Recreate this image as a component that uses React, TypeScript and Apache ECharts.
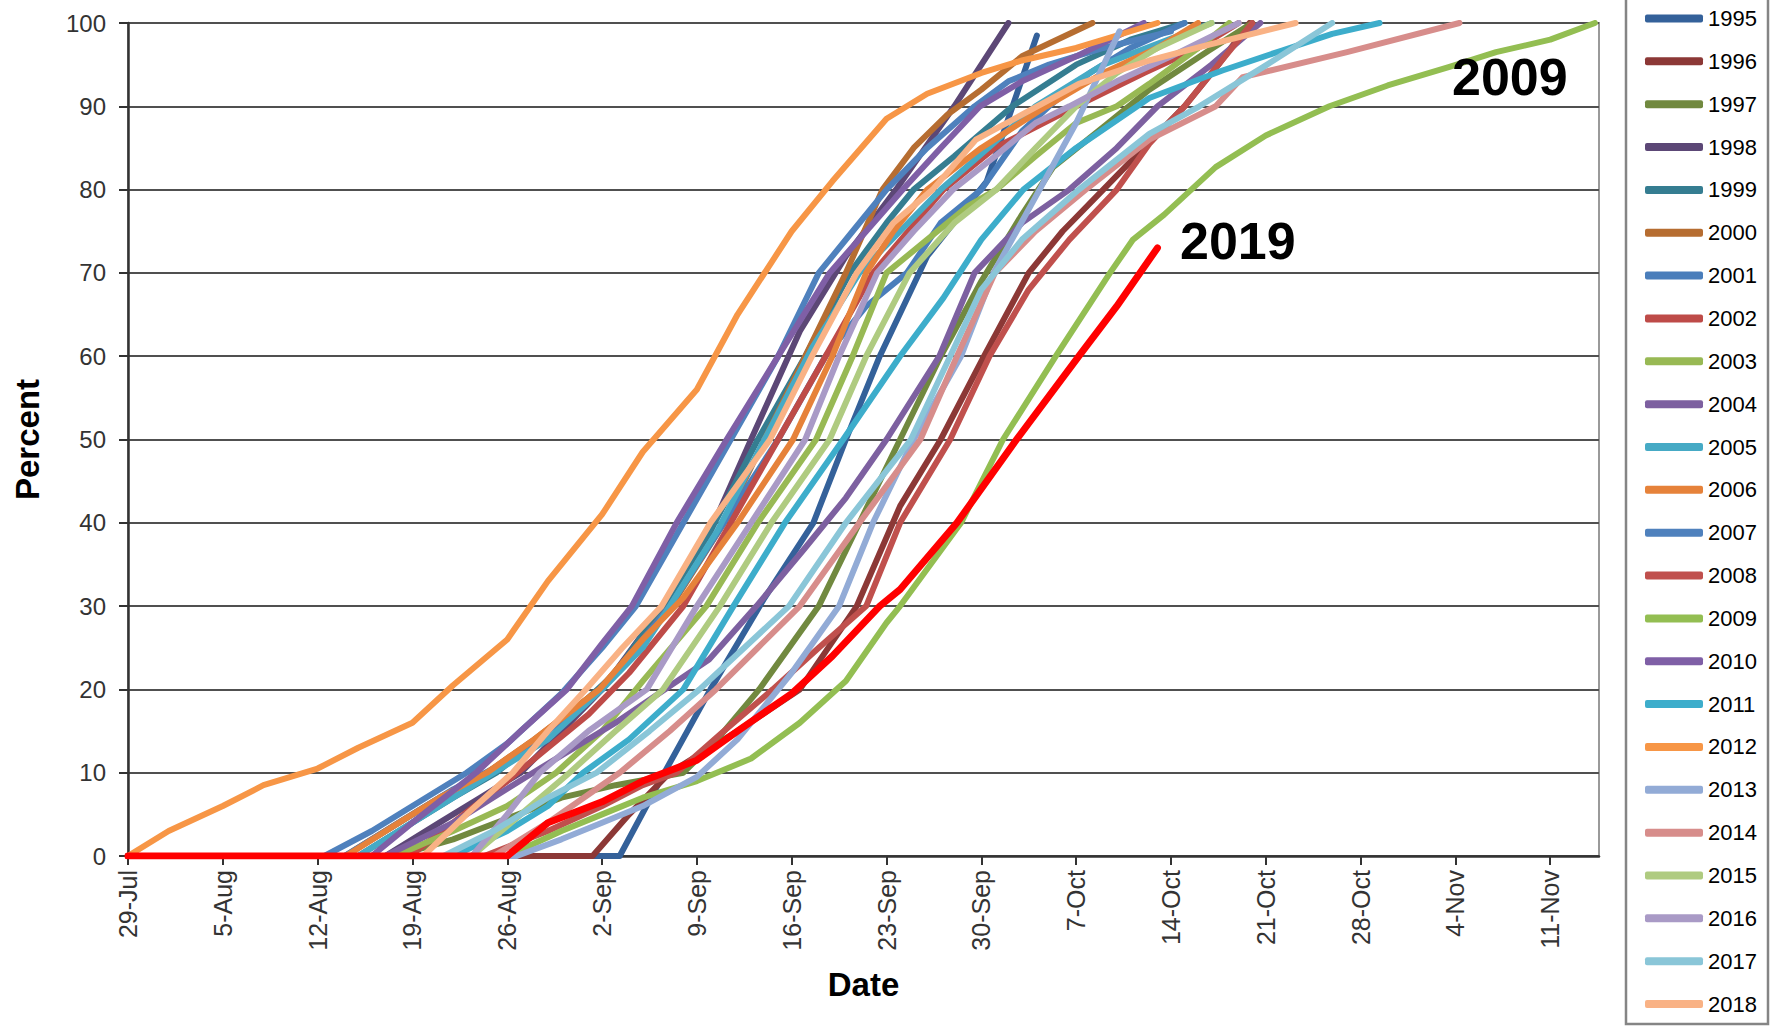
import React, { useEffect, useRef } from "react";
import * as echarts from "echarts";

const FONT = '"Liberation Sans", Arial, Helvetica, sans-serif';

// x = days since 29-Jul, y = percent
const tickLabels = ["29-Jul", "5-Aug", "12-Aug", "19-Aug", "26-Aug", "2-Sep", "9-Sep", "16-Sep", "23-Sep", "30-Sep", "7-Oct", "14-Oct", "21-Oct", "28-Oct", "4-Nov", "11-Nov"];

const y1995 = [[0,0],[36.3,0],[39.6,10],[43,20],[47,31],[50.6,40],[53,50],[55.5,60],[59,72],[63.4,81],[67.1,98.5]];
const y1996 = [[0,0],[34.3,0],[37,5],[40,10],[45,15],[49.6,20],[53.8,30],[57,42],[60,50],[63.2,60],[66.5,70],[69,75],[72,80],[75,85],[78,90],[80.5,95],[82.8,100]];
const y1997 = [[0,0],[19.7,0],[24,2],[28,4.5],[32,7],[36,8.5],[41,10],[43.5,14],[46.6,20],[51,30],[54,40],[57,50],[60,60],[63,69],[66,77],[68.3,82.7],[72,87.5],[75.4,92],[79.8,96.7],[83,100]];
const y1998 = [[0,0],[19,0],[23,4],[26,7],[29,10],[32,15],[35,20],[39.5,30],[43,39],[46,50],[49.6,63],[53,72],[56.7,80],[61,90],[65,100]];
const y1999 = [[0,0],[17,0],[21,4],[24,7],[27.2,10],[31,15],[34,19],[36,22],[39.5,30],[43,39],[46.5,50],[50,60],[53.3,70],[56,76],[58,80],[61,84],[65.3,90],[70,95],[74,98],[78,100]];
const y2000 = [[0,0],[16,0],[20,4],[23,7],[26.5,10],[30,14],[34.8,20],[38,26],[40.5,31],[44,40],[47,50],[50,60],[53,70],[55.7,80],[58,85],[60.5,89],[63,92],[66,96],[71.2,100]];
const y2001 = [[0,0],[16,0],[20,4],[24,8],[27,10.5],[31,15],[35,20],[38,26],[40,30],[44,40],[48,50],[51.5,60],[54.5,66],[57.5,70],[60,76],[63,80],[66,87],[68,90],[71,94],[74,97],[78,100]];
const y2002 = [[0,0],[20.8,0],[24,4],[28,9],[31,13],[34,17],[37,22],[41,30],[44.5,40],[48,50],[51.5,60],[55,70],[60.2,80],[64,85],[70,90],[75,94],[79,97],[82,100]];
const y2003 = [[0,0],[19.7,0],[24,3],[28,6],[31.6,10],[35,15],[38,21],[42.7,30],[46.5,40],[50.8,50],[53.5,60],[56,70],[59,74],[62,78],[64.1,80],[67,84],[70,88],[73,90],[75.4,92.7],[79,97],[81.3,100]];
const y2004 = [[0,0],[19,0],[24,4],[29.9,10],[36,16],[42.9,23.6],[46.4,30],[50,37],[53,43],[56,50],[59.9,60],[62.5,70],[66,76],[69.5,80],[73,85],[76,90],[80,95],[83.6,100]];
const y2005 = [[0,0],[17,0],[21,4],[27,10],[31,14],[35,20],[38,25],[40,30],[43.5,39],[47,50],[50.5,61],[54,70],[57,75],[60,80],[63.5,85],[67,90],[72,95],[80,100]];
const y2006 = [[0,0],[16.1,0],[20,4],[23,7],[26.5,10],[30,14],[34.8,20],[38,26],[41,31],[45,40],[49.1,50],[52,60],[54.5,70],[56.5,75],[59,80],[63,85],[67.8,90],[72,94],[76,97],[79,100]];
const y2007 = [[0,0],[14.5,0],[18,3],[21,6],[25,10],[28,13.5],[32,19.5],[35,25],[37.5,30],[41,40],[44.5,50],[48,60],[51,70],[53.5,75],[56,80],[59,85],[62.5,90],[65,93],[68,95],[72,97],[77,99]];
const y2008 = [[0,0],[26.3,0],[31,3],[35,6],[38,8.5],[40.5,10],[44,15],[47.6,20],[51,25],[54.5,30],[57,40],[60.7,50],[63.6,60],[66.5,68],[69.5,74],[73,80],[75.4,85.5],[78,90],[80.5,95],[83,100]];
const y2009 = [[0,0],[28,0],[32,3],[35,5],[38,7],[42,9],[46,11.7],[49.6,16],[53,21],[56,28],[57,30],[61.5,40],[64.6,50],[68.5,60],[72.5,70],[74.2,74],[76.5,77],[80.3,82.7],[84,86.5],[88.7,90],[93,92.5],[97.5,94.7],[101,96.5],[105,98],[108.3,100]];
const y2010 = [[0,0],[18,0],[21,4],[25.7,10],[29,15],[32.4,20],[35,25.5],[37.2,30],[40.5,40],[44.2,50],[48,60],[51.8,70],[54.5,75],[57.2,80],[60,85],[62.9,90],[66,93],[70,96],[75,100]];
const y2011 = [[0,0],[24,0],[28,3],[31,6],[33.6,10],[37,14],[41,20],[44.7,30],[48.5,40],[52.8,50],[57,60],[60.2,67],[63,74],[66.1,80],[70,85],[75.4,91],[80.8,94.3],[85.2,96.7],[88.9,98.7],[92.4,100]];
const y2012 = [[0,0],[3,3],[7,6],[10,8.5],[14,10.5],[17,13],[21,16],[24,20.5],[28,26],[31,33],[35,41],[38,48.5],[42,56],[45,65],[49,75],[52,81],[56,88.5],[59,91.5],[63,94],[66,95.5],[70,97],[73,98.5],[76,100]];
const y2013 = [[0,0],[28.7,0],[32,2],[35,4],[38,6],[42,9.5],[45,14],[49,22],[52.5,30],[55,40],[58,50],[61.5,60],[63.9,70],[67.3,80],[70,88],[73.2,99]];
const y2014 = [[0,0],[27,0],[31,4],[36.3,10],[40,15],[43.4,20],[46.5,25],[49.6,30],[54,40],[58.5,50],[61.2,60],[64,70],[67,75],[70.7,80],[75.4,86],[80.3,90],[82.3,93.5],[90,96.5],[98.3,100]];
const y2015 = [[0,0],[25.4,0],[29,5],[32.6,10],[36,15],[39.5,20],[43.7,30],[47.5,40],[51.8,50],[54.5,60],[57.7,70],[61,76],[64.1,80],[67,85],[70,90],[73,94],[76,97],[80,100]];
const y2016 = [[0,0],[25.4,0],[28,5],[30.4,10],[34,15],[38.3,20],[42,30],[46,40],[50,50],[52.5,60],[55.3,70],[58,75],[60.9,80],[64,84],[67,88],[69.5,90],[73,93],[77,96],[82,100]];
const y2017 = [[0,0],[23.3,0],[27,3],[31,7],[34.6,10],[38.5,15],[42.2,20],[45.5,25],[48.8,30],[53,40],[57.8,50],[60.7,60],[63,68],[66,74],[70.2,80],[75.4,86.7],[79.1,90],[83.8,94.7],[88.9,100]];
const y2018 = [[0,0],[21.8,0],[25,5],[28.4,10],[31,15],[33.8,20],[36.5,25],[39.4,30],[43,40],[47.4,50],[50.5,60],[53.8,70],[56.5,76],[59.4,80],[62.6,86],[66,89],[70.2,92.7],[75.4,95.5],[79.1,97.1],[86.2,100]];
const y2019 = [[0,0],[28,0],[31,4],[35,6.5],[38,9],[42,11.5],[45,15],[49,19.5],[52,24],[55.5,30],[57,32],[61.2,40],[65.6,50],[70.2,60],[73,66],[76,73]];

const years = ["1995","1996","1997","1998","1999","2000","2001","2002","2003","2004","2005","2006","2007","2008","2009","2010","2011","2012","2013","2014","2015","2016","2017","2018","2019"];
const yearData = [y1995,y1996,y1997,y1998,y1999,y2000,y2001,y2002,y2003,y2004,y2005,y2006,y2007,y2008,y2009,y2010,y2011,y2012,y2013,y2014,y2015,y2016,y2017,y2018,y2019];
const yearColors = ["#34619A","#8C3836","#71893F","#5C4776","#357D91","#B66D31","#4A7EBB","#BE4B48","#98B954","#7D60A0","#46AAC5","#E6823A","#4F81BD","#C0504D","#93BE52","#7F5FA6","#3DADCB","#F79646","#92ABD6","#D78D8B","#AFCB80","#A99AC6","#8AC6D8","#F9B285","#FF0000"];
const legendYears = years.slice(0, 24);

export default function App() {
  const ref = useRef<HTMLDivElement>(null);
  useEffect(() => {
    if (!ref.current) return;
    const chart = echarts.init(ref.current, null, { renderer: "svg" });
    const series = years.map((name, i) => ({
      name,
      type: "line",
      data: yearData[i],
      showSymbol: false,
      symbol: "none",
      lineStyle: { width: name === "2019" ? 7 : 6, color: yearColors[i], cap: "round", join: "round" },
      itemStyle: { color: yearColors[i] },
      emphasis: { disabled: true },
      z: 3,
    }));
    chart.setOption({
      animation: false,
      backgroundColor: "#ffffff",
      textStyle: { fontFamily: FONT },
      grid: { left: 128, right: 175, top: 23, bottom: 177, show: true, borderColor: "#9a9a9a", borderWidth: 2 },
      xAxis: {
        type: "value",
        min: 0,
        max: 108.6,
        interval: 7,
        name: "Date",
        nameLocation: "middle",
        nameGap: 112,
        nameTextStyle: { fontSize: 33, fontWeight: "bold", color: "#000", fontFamily: FONT },
        axisLine: { show: true, lineStyle: { color: "#333", width: 2.5 } },
        axisTick: { show: true, length: 9, lineStyle: { color: "#333", width: 2 } },
        splitLine: { show: false },
        axisLabel: {
          rotate: 90,
          margin: 14,
          fontSize: 25,
          color: "#333",
          fontFamily: FONT,
          showMaxLabel: false,
          formatter: (v: number) => {
            const i = Math.round(v / 7);
            return Math.abs(v - i * 7) < 1e-6 && tickLabels[i] ? tickLabels[i] : "";
          },
        },
      },
      yAxis: {
        type: "value",
        min: 0,
        max: 100,
        interval: 10,
        name: "Percent",
        nameLocation: "middle",
        nameGap: 84,
        nameTextStyle: { fontSize: 33, fontWeight: "bold", color: "#000", fontFamily: FONT },
        axisLine: { show: true, lineStyle: { color: "#333", width: 2.5 } },
        axisTick: { show: true, length: 9, lineStyle: { color: "#333", width: 2 } },
        splitLine: { show: true, lineStyle: { color: "#505050", width: 2 } },
        axisLabel: { margin: 22, fontSize: 24, color: "#333", fontFamily: FONT },
      },
      legend: {
        orient: "vertical",
        left: 1640,
        top: 2.5,
        itemWidth: 58,
        itemHeight: 8,
        itemGap: 20.85,
        icon: "roundRect",
        selectedMode: false,
        data: legendYears,
        textStyle: { fontSize: 22, lineHeight: 22, color: "#000", fontFamily: FONT },
      },
      graphic: [
        { type: "rect", z: 0, shape: { x: 1626, y: -10, width: 142, height: 1034 }, style: { fill: "none", stroke: "#858585", lineWidth: 2.5 } },
        { type: "text", z: 10, x: 1452, y: 77, style: { text: "2009", font: `bold 52px ${FONT}`, fill: "#000", verticalAlign: "middle" } },
        { type: "text", z: 10, x: 1180, y: 241, style: { text: "2019", font: `bold 52px ${FONT}`, fill: "#000", verticalAlign: "middle" } },
      ],
      series,
    });
    return () => chart.dispose();
  }, []);
  return <div ref={ref} style={{ position: "absolute", left: 0, top: 0, width: 1774, height: 1033 }} />;
}
